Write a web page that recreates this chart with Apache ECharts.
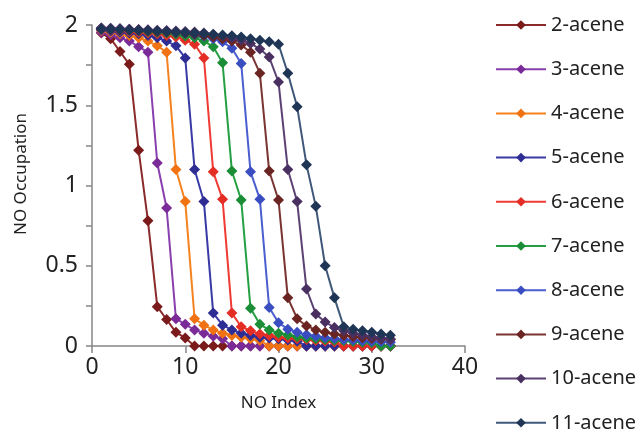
<!DOCTYPE html>
<html>
<head>
<meta charset="utf-8">
<script src="https://cdn.jsdelivr.net/npm/echarts@6/dist/echarts.min.js"></script>
<style>
  html, body { margin: 0; padding: 0; background: #ffffff; }
  #chart { width: 636px; height: 434px; }
</style>
</head>
<body>
<div id="chart"></div>
<script>
// Natural-orbital index (x) shared by every acene series
const noIndex = [1, 2, 3, 4, 5, 6, 7, 8, 9, 10, 11, 12, 13, 14, 15, 16,
                 17, 18, 19, 20, 21, 22, 23, 24, 25, 26, 27, 28, 29, 30, 31, 32];

// NO occupation numbers, one list per acene
const acene2 = [1.95, 1.915, 1.835, 1.755, 1.22, 0.78, 0.245, 0.165, 0.085, 0.05,
                0, 0, 0, 0, 0, 0, 0, 0, 0, 0, 0, 0, 0, 0, 0, 0, 0, 0, 0, 0, 0, 0];
const acene3 = [1.955, 1.94, 1.92, 1.90, 1.865, 1.83, 1.14, 0.86, 0.17, 0.135, 0.10, 0.08, 0.06, 0.045,
                0, 0, 0, 0, 0, 0, 0, 0, 0, 0, 0, 0, 0, 0, 0, 0, 0, 0];
const acene4 = [1.965, 1.955, 1.945, 1.935, 1.92, 1.90, 1.87, 1.83, 1.10, 0.90, 0.17, 0.13, 0.10, 0.08,
                0.065, 0.055, 0.045, 0.035, 0, 0, 0, 0, 0, 0, 0, 0, 0, 0, 0, 0, 0, 0];
const acene5 = [1.97, 1.962, 1.955, 1.95, 1.945, 1.935, 1.92, 1.90, 1.87, 1.795, 1.10, 0.90, 0.205, 0.13,
                0.10, 0.08, 0.065, 0.055, 0.05, 0.045, 0.038, 0.03, 0, 0, 0, 0, 0, 0, 0, 0, 0, 0];
const acene6 = [1.975, 1.97, 1.965, 1.96, 1.955, 1.95, 1.945, 1.935, 1.925, 1.905, 1.88, 1.795, 1.085,
                0.915, 0.205, 0.12, 0.095, 0.075, 0.065, 0.055, 0.05, 0.045, 0.04, 0.035, 0.03, 0.025,
                0, 0, 0, 0, 0, 0];
const acene7 = [1.98, 1.976, 1.972, 1.968, 1.964, 1.96, 1.955, 1.95, 1.942, 1.932, 1.92, 1.90, 1.865,
                1.765, 1.09, 0.91, 0.235, 0.135, 0.10, 0.08, 0.068, 0.058, 0.05, 0.045, 0.04, 0.036,
                0.032, 0.028, 0.024, 0.02, 0, 0];
const acene8 = [1.982, 1.979, 1.976, 1.973, 1.97, 1.967, 1.963, 1.959, 1.954, 1.948, 1.94, 1.93, 1.915,
                1.895, 1.855, 1.76, 1.085, 0.915, 0.24, 0.145, 0.105, 0.085, 0.07, 0.06, 0.052, 0.046,
                0.041, 0.037, 0.033, 0.03, 0.027, 0.024];
const acene9 = [1.979, 1.976, 1.973, 1.97, 1.967, 1.964, 1.96, 1.957, 1.953, 1.948, 1.942, 1.935, 1.926,
                1.915, 1.90, 1.875, 1.83, 1.70, 1.09, 0.91, 0.30, 0.17, 0.125, 0.10, 0.085, 0.074,
                0.065, 0.058, 0.052, 0.047, 0.043, 0.04];
const acene10 = [1.98, 1.978, 1.976, 1.974, 1.972, 1.97, 1.968, 1.966, 1.963, 1.96, 1.956, 1.95, 1.942,
                 1.932, 1.92, 1.905, 1.885, 1.85, 1.80, 1.645, 1.10, 0.90, 0.355, 0.20, 0.15, 0.115,
                 0.095, 0.08, 0.068, 0.058, 0.05, 0.044];
const acene11 = [1.974, 1.972, 1.97, 1.968, 1.966, 1.964, 1.961, 1.958, 1.955, 1.952, 1.949, 1.945, 1.941,
                 1.937, 1.933, 1.925, 1.915, 1.905, 1.895, 1.88, 1.70, 1.49, 1.13, 0.87, 0.50, 0.30,
                 0.12, 0.105, 0.095, 0.085, 0.075, 0.067];

const seriesNames = ['2-acene', '3-acene', '4-acene', '5-acene', '6-acene',
                     '7-acene', '8-acene', '9-acene', '10-acene', '11-acene'];
const seriesValues = [acene2, acene3, acene4, acene5, acene6, acene7, acene8, acene9, acene10, acene11];

// Y-axis tick labels (printed every 0.5; minor ticks every 0.25)
const yTickLabels = ['0', '0.5', '1', '1.5', '2'];

const lineColors   = ['#8a2a2a', '#8a3fae', '#f5821f', '#3a3aa6', '#ef3b33',
                      '#24a043', '#4a5ecf', '#7a3431', '#5b4272', '#3f5879'];
const markerColors = ['#7a1a1a', '#7a2b98', '#f07212', '#2d2d94', '#e42d25',
                      '#1a8d36', '#3a4ec2', '#6a2523', '#4a3061', '#1f3555'];

const FONT = 'Noto Sans';

const chart = echarts.init(document.getElementById('chart'), null, { renderer: 'canvas' });

const series = seriesNames.map((name, i) => ({
  name: name,
  type: 'line',
  data: noIndex.map((x, k) => [x, seriesValues[i][k]]),
  symbol: 'diamond',
  symbolSize: 11,
  z: 10 + i,
  lineStyle: { color: lineColors[i], width: 2 },
  itemStyle: { color: markerColors[i], borderWidth: 0 },
  emphasis: { disabled: true }
}));

chart.setOption({
  animation: false,
  backgroundColor: '#ffffff',
  textStyle: { fontFamily: FONT },
  grid: { left: 92, right: 171, top: 25, bottom: 88 },
  xAxis: {
    type: 'value',
    min: 0, max: 40, interval: 10,
    name: 'NO Index',
    nameLocation: 'middle',
    nameGap: 49,
    nameTextStyle: { fontFamily: FONT, fontSize: 17, color: '#222' },
    splitLine: { show: false },
    axisLine: { show: true, lineStyle: { color: '#868686', width: 1.5 } },
    axisTick: { show: true, inside: false, length: 7, lineStyle: { color: '#868686', width: 1.5 } },
    axisLabel: { fontFamily: FONT, fontSize: 23, color: '#222', margin: 10 }
  },
  yAxis: {
    type: 'value',
    min: 0, max: 2, interval: 0.25,
    name: 'NO Occupation',
    nameLocation: 'middle',
    nameGap: 62,
    nameTextStyle: { fontFamily: FONT, fontSize: 17, color: '#222', padding: [0, 0, 0, 23] },
    splitLine: { show: false },
    axisLine: { show: true, lineStyle: { color: '#868686', width: 1.5 } },
    axisTick: { show: true, inside: false, length: 6, lineStyle: { color: '#868686', width: 1.5 } },
    axisLabel: {
      fontFamily: FONT, fontSize: 23, color: '#222', margin: 14,
      formatter: function (v) {
        const s = String(Math.round(v * 100) / 100);
        return yTickLabels.indexOf(s) >= 0 ? s : '';
      }
    }
  },
  legend: {
    orient: 'vertical',
    left: 495,
    top: 14,
    padding: 0,
    height: 600,
    itemWidth: 50,
    itemHeight: 12,
    itemGap: 22.2,
    data: seriesNames,
    textStyle: { fontFamily: FONT, fontSize: 20, color: '#222', lineHeight: 22 }
  },
  series: series
});
</script>
</body>
</html>
